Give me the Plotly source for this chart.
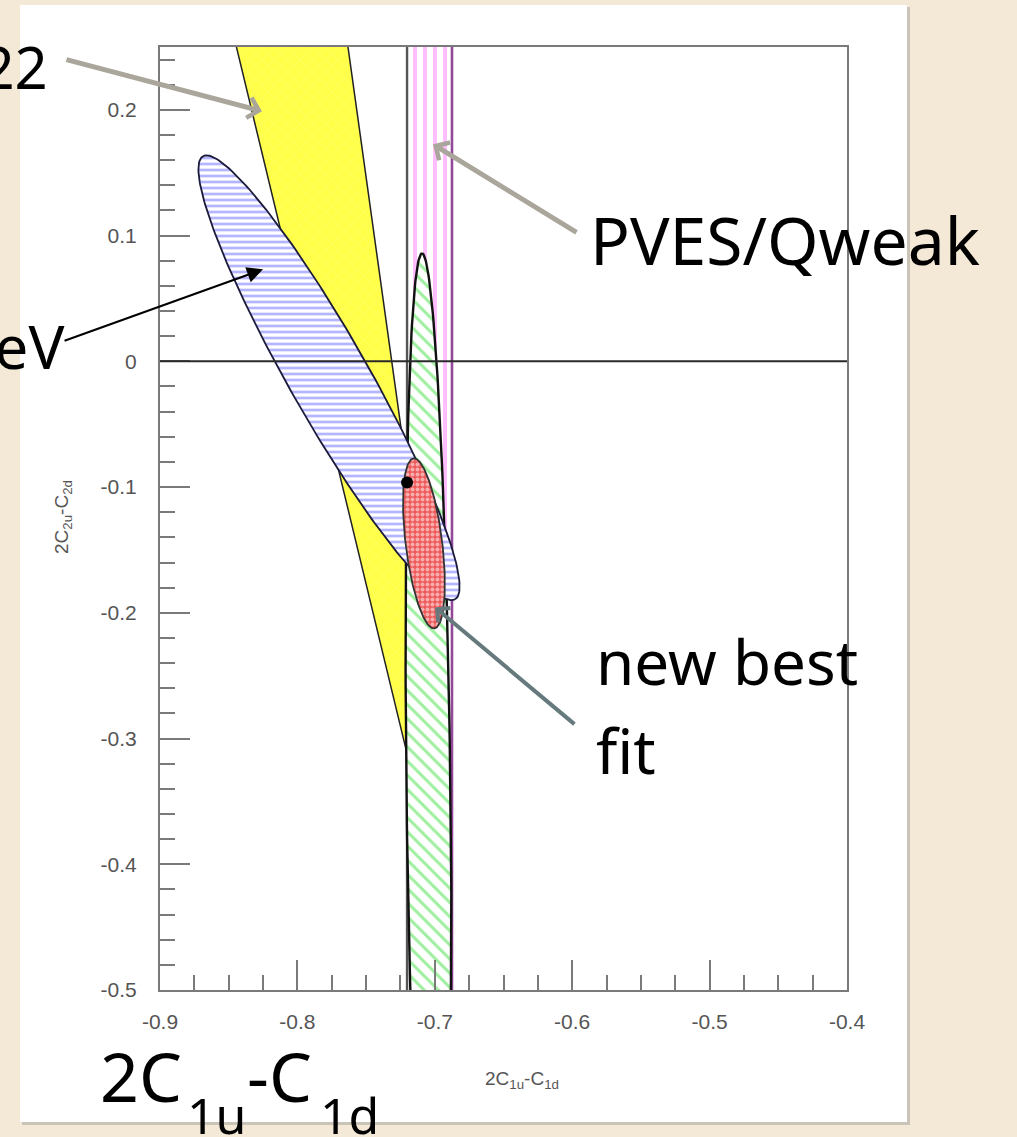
import numpy as np
import plotly.graph_objects as go

# ---------------- data ----------------
x_range = [-0.9, -0.4]
y_range = [-0.5, 0.25]
x_tick_vals = [-0.9, -0.8, -0.7, -0.6, -0.5, -0.4]
x_tick_text = ["-0.9", "-0.8", "-0.7", "-0.6", "-0.5", "-0.4"]
y_tick_vals = [-0.5, -0.4, -0.3, -0.2, -0.1, 0.0, 0.1, 0.2]
y_tick_text = ["-0.5", "-0.4", "-0.3", "-0.2", "-0.1", "0", "0.1", "0.2"]

# SLAC E122 allowed band (yellow) outline
e122_x = [-0.851, -0.767, -0.7202, -0.7202]
e122_y = [0.28, 0.28, -0.0875, -0.312]

# PVES / Qweak vertical band limits (2C1u-C1d)
qweak_x = [-0.7202, -0.6875]
qweak_y = [-0.6, 0.35]

# PVDIS 6 GeV ellipse (blue): centre and two half-axis vectors
pvdis_center = [-0.7770, -0.0131]
pvdis_axis_a = [0.0917, -0.1762]
pvdis_axis_b = [0.0250, 0.0157]

# green hatched ellipse: centre and half-axis vectors
green_center = [-0.7046, -0.3437]
green_axis_a = [-0.0047, 0.4296]
green_axis_b = [0.0160, 0.0002]

# new best fit ellipse (red)
fit_center = [-0.7079, -0.1448]
fit_axis_a = [-0.0076, 0.0676]
fit_axis_b = [0.0132, 0.0018]

# black point
point_x = [-0.7202]
point_y = [-0.0963]

# ---------------- page geometry ----------------
W, H = 1017, 1137
L, R, T, B = 160, 847, 47, 990


def px(x):
    return (x - L) / (R - L)


def py(y):
    return (B - y) / (B - T)


def ellipse(c, a, b, n=240):
    t = np.linspace(0, 2 * np.pi, n)
    return (c[0] + a[0] * np.cos(t) + b[0] * np.sin(t),
            c[1] + a[1] * np.cos(t) + b[1] * np.sin(t))


fig = go.Figure()

# Qweak band
fig.add_trace(go.Scatter(
    x=[qweak_x[0], qweak_x[1], qweak_x[1], qweak_x[0], qweak_x[0]],
    y=[qweak_y[0], qweak_y[0], qweak_y[1], qweak_y[1], qweak_y[0]],
    mode="lines", fill="toself", line=dict(width=0),
    fillpattern=dict(shape="|", fgcolor="#ff7dff", bgcolor="white", size=10, solidity=0.4),
    hoverinfo="skip", showlegend=False))

# E122 yellow band
fig.add_trace(go.Scatter(
    x=e122_x + [e122_x[0]], y=e122_y + [e122_y[0]],
    mode="lines", fill="toself", line=dict(color="#222", width=1.5),
    fillpattern=dict(shape="x", fgcolor="#ffff90", bgcolor="#ffff4a", size=9, solidity=0.12),
    hoverinfo="skip", showlegend=False))

# Qweak borders
fig.add_trace(go.Scatter(x=[qweak_x[0], qweak_x[0]], y=qweak_y, mode="lines",
                         line=dict(color="#555555", width=2.4), hoverinfo="skip", showlegend=False))
fig.add_trace(go.Scatter(x=[qweak_x[1], qweak_x[1]], y=qweak_y, mode="lines",
                         line=dict(color="#94489a", width=2.6), hoverinfo="skip", showlegend=False))

# green ellipse
gx, gy = ellipse(green_center, green_axis_a, green_axis_b)
fig.add_trace(go.Scatter(
    x=gx, y=gy, mode="lines", fill="toself", line=dict(color="#111", width=2.4),
    fillpattern=dict(shape="\\", fgcolor="#3ee03e", bgcolor="white", size=10, solidity=0.3),
    hoverinfo="skip", showlegend=False))

# blue ellipse
bx, by = ellipse(pvdis_center, pvdis_axis_a, pvdis_axis_b)
fig.add_trace(go.Scatter(
    x=bx, y=by, mode="lines", fill="toself", line=dict(color="#1a1a3a", width=1.8),
    fillpattern=dict(shape="-", fgcolor="#6a6aff", bgcolor="white", size=6, solidity=0.45),
    hoverinfo="skip", showlegend=False))

# red ellipse
rx, ry = ellipse(fit_center, fit_axis_a, fit_axis_b)
fig.add_trace(go.Scatter(
    x=rx, y=ry, mode="lines", fill="toself", line=dict(color="#333", width=1.8),
    fillpattern=dict(shape=".", fgcolor="white", bgcolor="#ef5a5a", size=5, solidity=0.5),
    hoverinfo="skip", showlegend=False))

# point
fig.add_trace(go.Scatter(x=point_x, y=point_y, mode="markers",
                         marker=dict(color="black", size=12), hoverinfo="skip", showlegend=False))

axis_common = dict(
    ticks="inside", ticklen=30, tickwidth=2, tickcolor="#7a7a7a",
    showline=True, linecolor="#7a7a7a", linewidth=2, mirror=True,
    showgrid=False, zeroline=False,
    tickfont=dict(family="Liberation Sans", size=21, color="#555555"),
)
fig.update_xaxes(range=x_range, tickmode="array", tickvals=x_tick_vals, ticktext=x_tick_text,
                 minor=dict(tickmode="linear", tick0=-0.9, dtick=0.025, ticks="inside", ticklen=15,
                            tickwidth=2, tickcolor="#7a7a7a", showgrid=False),
                 ticklabelstandoff=12, **axis_common)
fig.update_yaxes(range=y_range, tickmode="array", tickvals=y_tick_vals, ticktext=y_tick_text,
                 minor=dict(tickmode="linear", tick0=-0.5, dtick=0.02, ticks="inside", ticklen=15,
                            tickwidth=2, tickcolor="#7a7a7a", showgrid=False),
                 ticklabelstandoff=17, **axis_common)

shapes = [
    # white slide panel with shadow
    dict(type="rect", xref="paper", yref="paper", x0=px(22), x1=px(910), y0=py(1125), y1=py(7),
         fillcolor="#c9c3b8", line=dict(width=0), layer="below"),
    dict(type="rect", xref="paper", yref="paper", x0=px(20), x1=px(907), y0=py(1122), y1=py(5),
         fillcolor="white", line=dict(width=0), layer="below"),
    # zero line
    dict(type="line", xref="paper", yref="y", x0=0, x1=1, y0=0, y1=0,
         line=dict(color="#2a2a2a", width=2), layer="above"),
]

big = dict(family="Noto Sans", color="black")
small = dict(family="Liberation Sans", color="#555555", size=19)


def txt(text, x, y, size, xanchor="left"):
    return dict(text=text, xref="paper", yref="paper", x=px(x), y=py(y), xanchor=xanchor,
                yanchor="middle", showarrow=False, font=dict(size=size, **big))


annotations = [
    txt("E122", 50, 67, 58, "right"),
    txt("6 GeV", 66, 346, 60, "right"),
    txt("PVES/Qweak", 588, 239, 66),
    txt("new best", 594, 661, 62),
    txt("fit", 594, 750, 62),
    # large handwritten-style axis label, built from pieces so the subscripts sit low
    txt("2C", 98, 1075, 68),
    txt("1u", 185, 1115, 50),
    txt("-C", 245, 1075, 68),
    txt("1d", 318, 1115, 50),
    # axis titles
    dict(text="2C<sub>1u</sub>-C<sub>1d</sub>", xref="paper", yref="paper", x=px(522), y=py(1080),
         xanchor="center", yanchor="middle", showarrow=False, font=small),
    dict(text="2C<sub>2u</sub>-C<sub>2d</sub>", xref="paper", yref="paper", x=px(63), y=py(517),
         xanchor="center", yanchor="middle", textangle=-90, showarrow=False, font=small),
    # arrows
    dict(text="", x=-0.8258, y=0.1989, xref="x", yref="y", ax=-197, ay=-52, showarrow=True,
         arrowhead=4, arrowwidth=5, arrowsize=0.8, arrowcolor="#aaa69b"),
    dict(text="", x=-0.7013, y=0.1726, xref="x", yref="y", ax=145, ay=89, showarrow=True,
         arrowhead=4, arrowwidth=5, arrowsize=0.8, arrowcolor="#aaa69b"),
    dict(text="", x=-0.8250, y=0.0732, xref="x", yref="y", ax=-200, ay=72, showarrow=True,
         arrowhead=2, arrowwidth=2, arrowsize=1.6, arrowcolor="black"),
    dict(text="", x=-0.6999, y=-0.1957, xref="x", yref="y", ax=141, ay=118, showarrow=True,
         arrowhead=4, arrowwidth=4, arrowsize=0.9, arrowcolor="#667a7e"),
]

fig.update_layout(
    width=W, height=H, autosize=False,
    margin=dict(l=L, r=W - R, t=T, b=H - B, pad=0),
    paper_bgcolor="#f3e9d6", plot_bgcolor="white",
    shapes=shapes, annotations=annotations, showlegend=False,
)

fig.write_html("out.html")
